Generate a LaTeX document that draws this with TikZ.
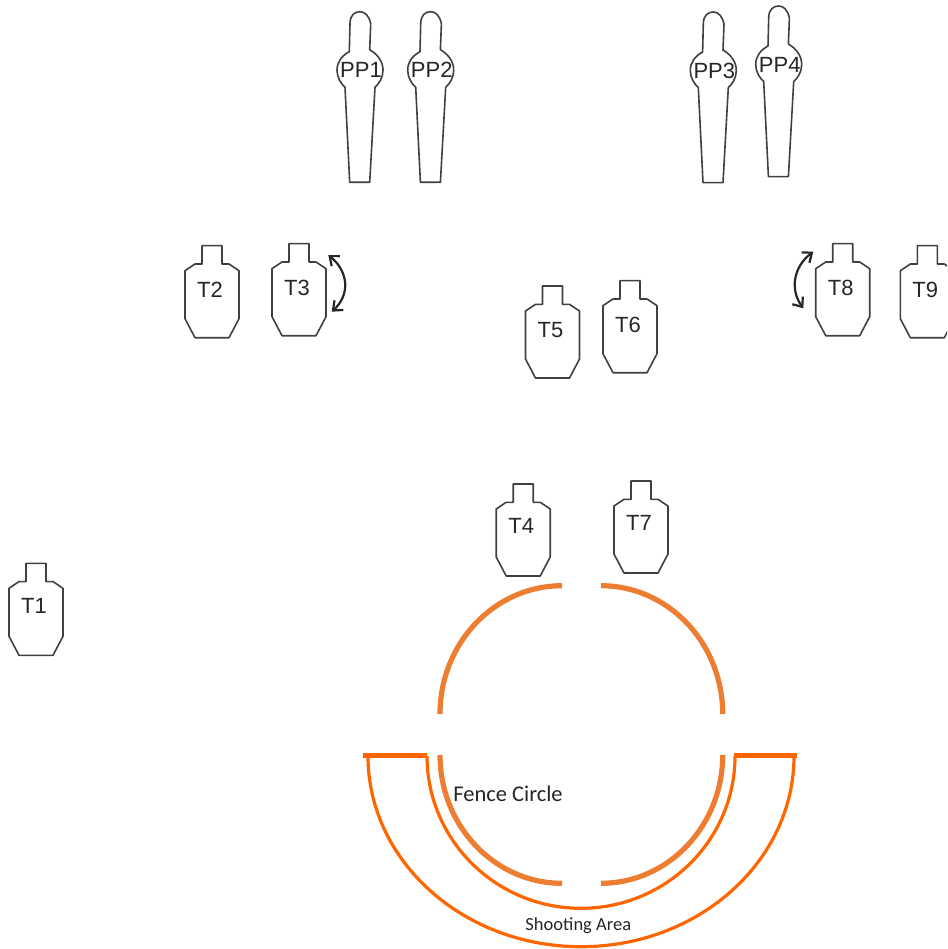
\documentclass[tikz,border=0pt]{standalone}
\usepackage{fontspec}
\setmainfont{Liberation Sans}
\newfontfamily\calibri{Carlito}
\usetikzlibrary{arrows.meta}
\definecolor{fenceorange}{HTML}{ED7D31}
\definecolor{areaorange}{HTML}{FF6600}
\definecolor{inkgray}{HTML}{404040}
\tikzset{x=1pt,y=-1pt}
\tikzset{
  outline/.style={draw=inkgray,line width=1.6pt,line join=round},
  tag/.style={font=\fontsize{22}{24}\selectfont,text=black!85,inner sep=0pt},
  fence/.style={draw=fenceorange,line width=5.2pt},
  area/.style={draw=areaorange,line width=3.2pt},
  areabar/.style={draw=areaorange,line width=5pt},
  swing/.style={black!85,line width=2.2pt,{Straight Barb[length=8pt,width=13pt]}-{Straight Barb[length=8pt,width=13pt]}},
  pics/target/.style 2 args={code={
    \draw[outline] (-10,0) -- (10,0) -- (10,18.3) -- (17,18.3) -- (27,25) -- (27,73)
      -- (17,92) -- (-17,92) -- (-27,73) -- (-27,25) -- (-17,18.3) -- (-10,18.3) -- cycle;
    \node[tag] (#1) at (-2,#2) {#1};
  }},
  pics/popper/.style={code={
    \draw[outline] (0,0) .. controls (5,0) and (9,4) .. (10.7,12) -- (9.7,38)
      .. controls (18,43) and (23,50) .. (23,58.5) .. controls (23,66) and (19,72) .. (15,75.6)
      -- (9.7,170.6) -- (-10.3,170.6) -- (-15,75.6)
      .. controls (-19,72) and (-23,66) .. (-23,58.5) .. controls (-23,50) and (-18,44) .. (-10.7,40)
      -- (-10,12) .. controls (-10,3) and (-5,0) .. (0,0) -- cycle;
    \node[tag] (#1) at (1,58.5) {#1};
  }},
}
\begin{document}
\begin{tikzpicture}
  \clip (0,0) rectangle (947,949);
  % poppers
  \pic at (360,11.7) {popper=PP1};
  \pic at (430.7,11.7) {popper=PP2};
  \pic at (713.3,12) {popper=PP3};
  \pic at (778.7,6) {popper=PP4};
  % targets
  \pic at (36,563.3) {target={T1}{42.7}};
  \pic at (212,245.7) {target={T2}{44.3}};
  \pic at (299,243.7) {target={T3}{44}};
  \pic at (523.2,484) {target={T4}{42}};
  \pic at (552.5,286) {target={T5}{44}};
  \pic at (630,280.7) {target={T6}{44.3}};
  \pic at (641,481) {target={T7}{42}};
  \pic at (842.7,243.7) {target={T8}{44}};
  \pic at (927.3,245.7) {target={T9}{44.3}};
  % swingers
  \coordinate (T3top) at (328.3,255);
  \coordinate (T3low) at (331.7,311.7);
  \coordinate (T8top) at (813.3,251.7);
  \coordinate (T8low) at (803.3,308.3);
  \draw[swing] (T3top) .. controls (349,272) and (350,295) .. (T3low);
  \draw[swing] (T8top) .. controls (793,267) and (790,290) .. (T8low);
  % fence circle
  \draw[fence] (562,585.7) arc[start angle=-90,end angle=-180,x radius=122,y radius=128.3];
  \draw[fence] (601,585.7) arc[start angle=-90,end angle=0,x radius=121.7,y radius=128.3];
  \draw[fence] (562,883.3) arc[start angle=90,end angle=180,x radius=122,y radius=128.3];
  \draw[fence] (601,883.3) arc[start angle=90,end angle=0,x radius=121.7,y radius=128.3];
  \node[font=\calibri\fontsize{22.5}{24}\selectfont,text=black!85,inner sep=0pt] (fencelabel) at (508,794) {Fence Circle};
  % shooting area
  \coordinate (areamid) at (581,756);
  \draw[area] (areamid) ++(213,0) arc[start angle=0,end angle=180,x radius=213,y radius=190.7];
  \draw[area] (areamid) ++(154,0) arc[start angle=0,end angle=180,x radius=154,y radius=152.3];
  \coordinate (barAl) at (362.7,755.7);
  \coordinate (barAr) at (427.3,755.7);
  \coordinate (barBl) at (734.3,755.7);
  \coordinate (barBr) at (797,755.7);
  \draw[areabar] (barAl) -- (barAr);
  \draw[areabar] (barBl) -- (barBr);
  \node[font=\calibri\fontsize{18.5}{20}\selectfont,text=black!85,inner sep=0pt] (arealabel) at (578.3,925.7) {Shooting Area};
\end{tikzpicture}
\end{document}
